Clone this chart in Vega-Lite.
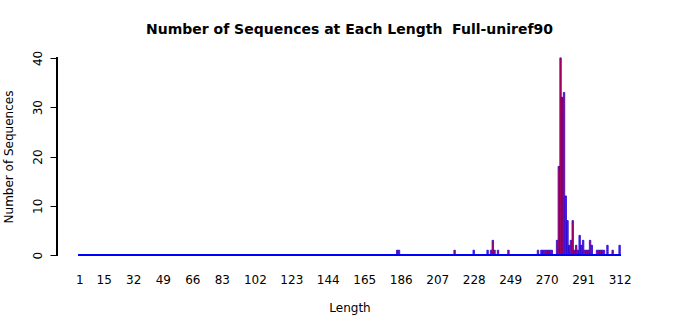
{
  "$schema": "https://vega.github.io/schema/vega-lite/v6.json",
  "autosize": {"type": "none"},
  "padding": {"left": 57, "top": 50, "right": 58, "bottom": 52},
  "width": 585,
  "height": 213,
  "background": "white",
  "title": {
    "text": "Number of Sequences at Each Length\u00a0 Full-uniref90",
    "font": "DejaVu Sans",
    "fontSize": 14,
    "fontWeight": "bold",
    "color": "black",
    "anchor": "middle",
    "baseline": "alphabetic",
    "offset": 2
  },
  "config": {
    "view": {"stroke": null},
    "font": "DejaVu Sans",
    "axis": {"labelOverlap": false}
  },
  "data": {
    "values": [
      {"length": 184, "count": 1},
      {"length": 185, "count": 1},
      {"length": 217, "count": 1},
      {"length": 228, "count": 1},
      {"length": 236, "count": 1},
      {"length": 238, "count": 1},
      {"length": 239, "count": 3},
      {"length": 240, "count": 1},
      {"length": 242, "count": 1},
      {"length": 248, "count": 1},
      {"length": 265, "count": 1},
      {"length": 267, "count": 1},
      {"length": 268, "count": 1},
      {"length": 269, "count": 1},
      {"length": 270, "count": 1},
      {"length": 271, "count": 1},
      {"length": 272, "count": 1},
      {"length": 273, "count": 1},
      {"length": 276, "count": 3},
      {"length": 277, "count": 18},
      {"length": 278, "count": 40},
      {"length": 279, "count": 32},
      {"length": 280, "count": 33},
      {"length": 281, "count": 12},
      {"length": 282, "count": 7},
      {"length": 283, "count": 2},
      {"length": 284, "count": 3},
      {"length": 285, "count": 7},
      {"length": 286, "count": 1},
      {"length": 287, "count": 2},
      {"length": 288, "count": 1},
      {"length": 289, "count": 4},
      {"length": 290, "count": 2},
      {"length": 291, "count": 3},
      {"length": 292, "count": 1},
      {"length": 293, "count": 1},
      {"length": 294, "count": 1},
      {"length": 295, "count": 3},
      {"length": 296, "count": 2},
      {"length": 299, "count": 1},
      {"length": 300, "count": 1},
      {"length": 301, "count": 1},
      {"length": 302, "count": 1},
      {"length": 303, "count": 1},
      {"length": 305, "count": 2},
      {"length": 308, "count": 1},
      {"length": 312, "count": 2}
    ]
  },
  "layer": [
    {
      "mark": {"type": "bar", "width": 1.45, "fill": "#ff0000", "stroke": "#0000ff", "strokeWidth": 0.75},
      "encoding": {
        "x": {
          "field": "length",
          "type": "quantitative",
          "scale": {"domain": [-11.89, 324.89], "nice": false, "zero": false, "padding": 0},
          "axis": {
            "title": "Length",
            "values": [1, 15, 32, 49, 66, 83, 102, 123, 144, 165, 186, 207, 228, 249, 270, 291, 312],
            "tickCount": 40,
            "domain": false,
            "ticks": false,
            "grid": false,
            "labelFont": "DejaVu Sans",
            "labelFontSize": 12,
            "labelColor": "black",
            "labelBaseline": "alphabetic",
            "labelPadding": 20,
            "labelOverlap": false,
            "labelFlush": false,
            "titleFont": "DejaVu Sans",
            "titleFontSize": 12,
            "titleFontWeight": "normal",
            "titleColor": "black",
            "titleBaseline": "alphabetic",
            "titleY": 48
          }
        },
        "y": {
          "field": "count",
          "type": "quantitative",
          "scale": {"domain": [-1.6, 41.6], "nice": false, "zero": false},
          "axis": {
            "title": "Number of Sequences",
            "values": [0, 10, 20, 30, 40],
            "tickCount": 10,
            "domain": false,
            "grid": false,
            "ticks": true,
            "tickSize": 7,
            "tickColor": "black",
            "labelAngle": 270,
            "labelAlign": "center",
            "labelBaseline": "alphabetic",
            "labelPadding": 9,
            "labelOverlap": false,
            "labelFont": "DejaVu Sans",
            "labelFontSize": 12,
            "labelColor": "black",
            "titleFont": "DejaVu Sans",
            "titleFontSize": 12,
            "titleFontWeight": "normal",
            "titleColor": "black",
            "titleAngle": 270,
            "titleBaseline": "alphabetic",
            "titleX": -45,
            "titleY": 106.5
          }
        }
      }
    },
    {
      "mark": {"type": "rule", "color": "#0000ff", "strokeWidth": 1},
      "encoding": {
        "x": {"datum": 0.6, "type": "quantitative"},
        "x2": {"datum": 312.4},
        "y": {"datum": 0, "type": "quantitative"}
      }
    },
    {
      "mark": {"type": "rule", "color": "black", "strokeWidth": 1},
      "encoding": {
        "x": {"datum": -11.89, "type": "quantitative"},
        "y": {"datum": 0, "type": "quantitative"},
        "y2": {"datum": 40}
      }
    }
  ]
}
